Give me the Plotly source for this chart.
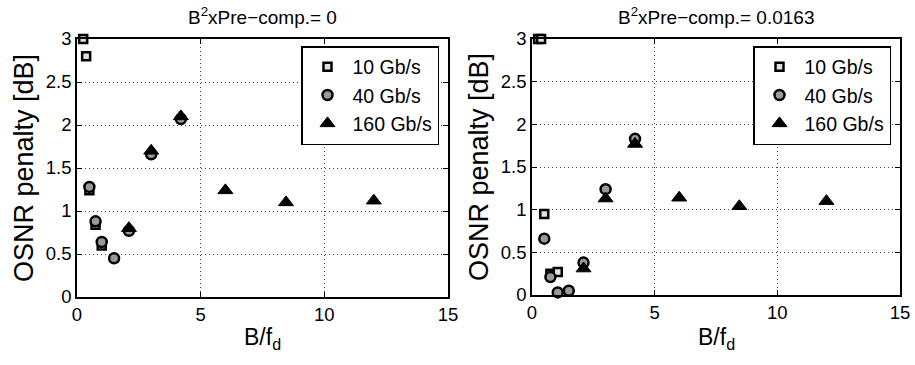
import plotly.graph_objects as go

# B/f_d values and OSNR penalties [dB] for each bit rate
# Panel A: B^2 x Pre-comp. = 0
a_10_x = [0.25, 0.37, 0.5, 0.75, 1.0]
a_10_y = [3.0, 2.8, 1.24, 0.84, 0.6]
a_40_x = [0.5, 0.75, 1.0, 1.5, 2.1, 3.0, 4.2]
a_40_y = [1.28, 0.88, 0.64, 0.45, 0.77, 1.66, 2.07]
a_160_x = [2.1, 3.0, 4.2, 6.0, 8.45, 12.0]
a_160_y = [0.8, 1.7, 2.1, 1.24, 1.1, 1.12]

# Panel B: B^2 x Pre-comp. = 0.0163
b_10_x = [0.25, 0.37, 0.5, 0.75, 1.05]
b_10_y = [3.0, 3.0, 0.95, 0.25, 0.27]
b_40_x = [0.5, 0.75, 1.05, 1.5, 2.1, 3.0, 4.2]
b_40_y = [0.66, 0.21, 0.03, 0.05, 0.38, 1.24, 1.83]
b_160_x = [2.1, 3.0, 4.2, 6.0, 8.45, 12.0]
b_160_y = [0.31, 1.13, 1.77, 1.14, 1.04, 1.1]

series_names = ["10 Gb/s", "40 Gb/s", "160 Gb/s"]
titles = ["B<sup>2</sup>xPre\u2212comp.= 0", "B<sup>2</sup>xPre\u2212comp.= 0.0163"]
x_ticks = [0, 5, 10, 15]
y_ticks = [0, 0.5, 1, 1.5, 2, 2.5, 3]
y_tick_text = ["0", "0.5", "1", "1.5", "2", "2.5", "3"]

FONT = "Liberation Sans, Arial, sans-serif"
W, H = 915, 365

styles = [
    dict(symbol="square", size=8, color="#e0e0e0", line=dict(color="black", width=2.5)),
    dict(symbol="circle", size=10, color="#999999", line=dict(color="black", width=2.5)),
    dict(symbol="triangle-up", size=13, color="black", line=dict(color="black", width=1)),
]

fig = go.Figure()

panels = [
    ([a_10_x, a_40_x, a_160_x], [a_10_y, a_40_y, a_160_y], "x", "y"),
    ([b_10_x, b_40_x, b_160_x], [b_10_y, b_40_y, b_160_y], "x2", "y2"),
]

for p, (xs, ys, xa, ya) in enumerate(panels):
    for i in range(3):
        fig.add_trace(go.Scatter(
            x=xs[i], y=ys[i], mode="markers", name=series_names[i],
            marker=styles[i], xaxis=xa, yaxis=ya, cliponaxis=False,
            showlegend=True, legend="legend" if p == 0 else "legend2",
        ))

# plot-area pixel boxes: (left, right, top, bottom)
boxes = [(77, 448, 39, 297), (532, 900, 39, 295)]

axis_common = dict(
    showline=True, linecolor="black", linewidth=1.5, mirror="ticks",
    ticks="inside", ticklen=5, tickcolor="black", automargin=False,
    showgrid=True, gridcolor="#444444", griddash="1px,3px", gridwidth=1,
    zeroline=False, tickfont=dict(family=FONT, size=18.5, color="black"),
)

layout = dict(
    width=W, height=H, margin=dict(l=0, r=0, t=0, b=0, autoexpand=False),
    paper_bgcolor="white", plot_bgcolor="white",
    font=dict(family=FONT, color="black"),
    showlegend=True,
)

annotations = []
for p, (l, r, t, b) in enumerate(boxes):
    sfx = "" if p == 0 else str(p + 1)
    xd = [l / W, r / W]
    yd = [(H - b) / H, (H - t) / H]
    layout["xaxis" + sfx] = dict(axis_common, domain=xd, range=[0, 15],
                                  tickvals=x_ticks, anchor="y" + sfx)
    layout["yaxis" + sfx] = dict(axis_common, domain=yd, range=[0, 3],
                                  tickvals=y_ticks, ticktext=y_tick_text,
                                  anchor="x" + sfx)
    layout["legend" if p == 0 else "legend2"] = dict(
        x=(r - 9) / W, y=(H - t - 7) / H, xanchor="right", yanchor="top",
        bgcolor="white", bordercolor="black", borderwidth=1.5,
        font=dict(family=FONT, size=19.5, color="black"),
        itemwidth=40, tracegroupgap=0,
    )
    cx = (l + r) / 2
    annotations.append(dict(text=titles[p], x=cx / W, y=(H - 16) / H,
                            xanchor="center", yanchor="middle",
                            xref="paper", yref="paper", showarrow=False,
                            font=dict(family=FONT, size=19, color="black")))
    annotations.append(dict(text="B/f<sub>d</sub>", x=cx / W, y=(H - 338) / H,
                            xanchor="center", yanchor="middle",
                            xref="paper", yref="paper", showarrow=False,
                            font=dict(family=FONT, size=23, color="black")))
    annotations.append(dict(text="OSNR penalty [dB]", x=(l - 53) / W,
                            y=(H - (t + b) / 2) / H, textangle=-90,
                            xanchor="center", yanchor="middle",
                            xref="paper", yref="paper", showarrow=False,
                            font=dict(family=FONT, size=27, color="black")))

layout["annotations"] = annotations
fig.update_layout(**layout)
fig.write_html("out.html")
